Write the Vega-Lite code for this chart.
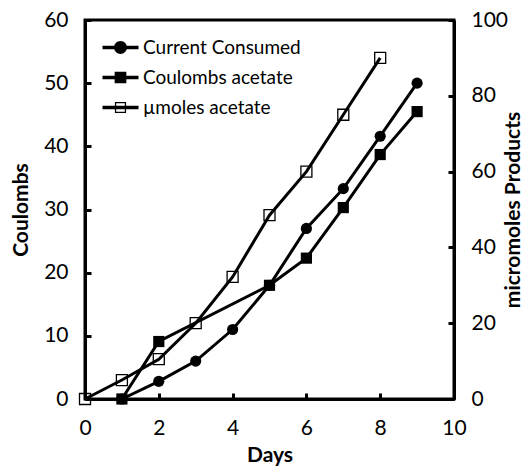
{
  "$schema": "https://vega.github.io/schema/vega-lite/v6.json",
  "width": 369,
  "height": 379,
  "autosize": {"type": "none"},
  "padding": {"left": 85, "top": 20, "right": 72, "bottom": 68},
  "config": {
    "font": "Lato",
    "view": {"stroke": "black", "strokeWidth": 3},
    "axis": {
      "domainColor": "black", "domainWidth": 3,
      "tickColor": "black", "tickWidth": 3, "tickSize": -6,
      "grid": false, "labelFlush": false, "labelOverlap": false,
      "labelFont": "Lato", "labelFontSize": 21, "labelColor": "black",
      "titleFont": "Lato", "titleFontSize": 21, "titleFontWeight": "bold", "titleColor": "black"
    }
  },
  "datasets": {
    "left": [
      {"series": "Current Consumed", "day": 1, "value": 0},
      {"series": "Current Consumed", "day": 2, "value": 2.8},
      {"series": "Current Consumed", "day": 3, "value": 6},
      {"series": "Current Consumed", "day": 4, "value": 11},
      {"series": "Current Consumed", "day": 5, "value": 18},
      {"series": "Current Consumed", "day": 6, "value": 27},
      {"series": "Current Consumed", "day": 7, "value": 33.3},
      {"series": "Current Consumed", "day": 8, "value": 41.6},
      {"series": "Current Consumed", "day": 9, "value": 50},
      {"series": "Coulombs acetate", "day": 1, "value": 0},
      {"series": "Coulombs acetate", "day": 2, "value": 9.1},
      {"series": "Coulombs acetate", "day": 5, "value": 18},
      {"series": "Coulombs acetate", "day": 6, "value": 22.3},
      {"series": "Coulombs acetate", "day": 7, "value": 30.3},
      {"series": "Coulombs acetate", "day": 8, "value": 38.7},
      {"series": "Coulombs acetate", "day": 9, "value": 45.5}
    ],
    "right": [
      {"series": "µmoles acetate", "day": 0, "value": 0},
      {"series": "µmoles acetate", "day": 1, "value": 5},
      {"series": "µmoles acetate", "day": 2, "value": 10.5},
      {"series": "µmoles acetate", "day": 3, "value": 20},
      {"series": "µmoles acetate", "day": 4, "value": 32.2},
      {"series": "µmoles acetate", "day": 5, "value": 48.5},
      {"series": "µmoles acetate", "day": 6, "value": 60},
      {"series": "µmoles acetate", "day": 7, "value": 75},
      {"series": "µmoles acetate", "day": 8, "value": 90}
    ]
  },
  "encoding": {
    "x": {
      "field": "day", "type": "quantitative",
      "scale": {"domain": [0, 10], "nice": false, "zero": false},
      "axis": {"values": [0, 2, 4, 6, 8, 10], "title": "Days", "labelPadding": 24, "titlePadding": 6}
    }
  },
  "layer": [
    {
      "data": {"name": "left"},
      "encoding": {
        "y": {
          "field": "value", "type": "quantitative",
          "scale": {"domain": [0, 60], "nice": false},
          "axis": {"values": [0, 10, 20, 30, 40, 50, 60], "title": "Coulombs", "labelPadding": 23, "titlePadding": 12}
        }
      },
      "layer": [
        {
          "mark": {"type": "line", "strokeWidth": 3},
          "encoding": {
            "color": {
              "field": "series", "type": "nominal",
              "scale": {"domain": ["Current Consumed", "Coulombs acetate", "µmoles acetate"], "range": ["black", "black", "black"]},
              "legend": {
                "orient": "none", "legendX": 26, "legendY": 18, "title": null, "padding": 0,
                "labelFont": "Lato", "labelFontSize": 19, "labelColor": "black",
                "symbolSize": 324, "labelOffset": 13, "rowPadding": 10,
                "encode": {
                  "symbols": {
                    "update": {
                      "shape": {"signal": "datum.value === 'Current Consumed' ? 'M-2,-0.19H2V0.19H-2Z M0.72,0A0.72,0.72 0 1,1 -0.72,0A0.72,0.72 0 1,1 0.72,0Z' : datum.value === 'Coulombs acetate' ? 'M-2,-0.19H2V0.19H-2Z M-0.65,-0.65H0.65V0.65H-0.65Z' : 'M-2,-0.19H2V0.19H-2Z M-0.62,-0.62H0.62V0.62H-0.62Z M-0.48,-0.48V0.48H0.48V-0.48Z'"},
                      "fill": {"value": "black"},
                      "fillOpacity": {"value": 1},
                      "opacity": {"value": 1},
                      "strokeWidth": {"value": 0}
                    }
                  }
                }
              }
            }
          }
        },
        {
          "mark": {"type": "point", "filled": true, "opacity": 1, "size": 125, "color": "black"},
          "encoding": {
            "shape": {
              "field": "series", "type": "nominal",
              "scale": {"domain": ["Current Consumed", "Coulombs acetate"], "range": ["circle", "square"]},
              "legend": null
            }
          }
        }
      ]
    },
    {
      "data": {"name": "right"},
      "encoding": {
        "y": {
          "field": "value", "type": "quantitative",
          "scale": {"domain": [0, 100], "nice": false},
          "axis": {"orient": "right", "values": [0, 20, 40, 60, 80, 100], "title": "micromoles Products", "titleAngle": 270, "labelPadding": 23, "titlePadding": 16}
        }
      },
      "layer": [
        {
          "mark": {"type": "line", "strokeWidth": 3},
          "encoding": {
            "color": {
              "field": "series", "type": "nominal",
              "scale": {"domain": ["Current Consumed", "Coulombs acetate", "µmoles acetate"], "range": ["black", "black", "black"]},
              "legend": {
                "orient": "none", "legendX": 26, "legendY": 18, "title": null, "padding": 0,
                "labelFont": "Lato", "labelFontSize": 19, "labelColor": "black",
                "symbolSize": 324, "labelOffset": 13, "rowPadding": 10,
                "encode": {
                  "symbols": {
                    "update": {
                      "shape": {"signal": "datum.value === 'Current Consumed' ? 'M-2,-0.19H2V0.19H-2Z M0.72,0A0.72,0.72 0 1,1 -0.72,0A0.72,0.72 0 1,1 0.72,0Z' : datum.value === 'Coulombs acetate' ? 'M-2,-0.19H2V0.19H-2Z M-0.65,-0.65H0.65V0.65H-0.65Z' : 'M-2,-0.19H2V0.19H-2Z M-0.62,-0.62H0.62V0.62H-0.62Z M-0.48,-0.48V0.48H0.48V-0.48Z'"},
                      "fill": {"value": "black"},
                      "fillOpacity": {"value": 1},
                      "opacity": {"value": 1},
                      "strokeWidth": {"value": 0}
                    }
                  }
                }
              }
            }
          }
        },
        {
          "mark": {"type": "point", "shape": "square", "filled": false, "stroke": "black", "strokeWidth": 1.3, "size": 121, "opacity": 1}
        }
      ]
    }
  ],
  "resolve": {"scale": {"y": "independent"}}
}
